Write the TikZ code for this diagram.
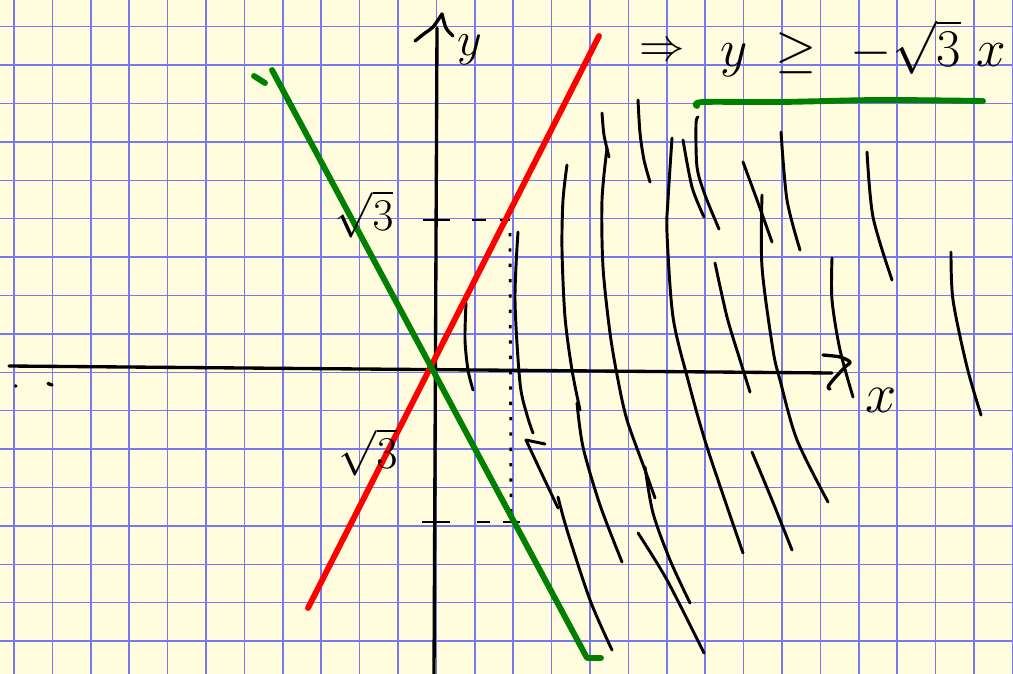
\documentclass[tikz,border=0pt]{standalone}
\usepackage{graphicx}
\definecolor{paper}{RGB}{255,253,221}
\definecolor{gridblue}{RGB}{120,120,240}
\definecolor{penred}{RGB}{255,0,0}
\definecolor{pengreen}{RGB}{0,128,0}
\tikzset{
  pen/.style={line width=2.5pt, line cap=round, line join=round, black},
  hatch/.style={line width=2.2pt, line cap=round, line join=round, black},
  dotpen/.style={line width=2.1pt, line cap=butt, black},
  redline/.style={line width=4.4pt, penred, line cap=round, line join=round},
  greenline/.style={line width=4.4pt, pengreen, line cap=round, line join=round},
  gridline/.style={line width=1.15pt, gridblue},
  hand/.style={inner sep=0pt, text=black, font=\Huge},
}
\begin{document}
\begin{tikzpicture}[x=0.75pt,y=-0.75pt]
\fill[paper] (0,0) rectangle (1013,674);
\useasboundingbox (0,0) rectangle (1013,674);
% grid
\foreach \i in {0,...,26} \draw[gridline] ({14+38.4*\i},0) -- ({14+38.4*\i},674);
\foreach \j in {0,...,16} \draw[gridline] (0,{26.7+38.4*\j}) -- (1013,{26.7+38.4*\j});

% axes
\coordinate (xs) at (9,366);
\coordinate (xe) at (832,373);
\coordinate (ys) at (434,674);
\coordinate (ye) at (437,28);
\draw[pen] (xs) -- (xe);
\draw[pen] (ys) -- (ye);
\draw[pen] plot[smooth] coordinates {(823,355) (840,357) (850,362) (845,367) (833,380) (828,387) (830,389)};
\draw[pen] plot[smooth] coordinates {(415,41) (425,33) (433,27) (442,14)};
\draw[pen] plot[smooth] coordinates {(442,14) (446,28) (453,36)};
\fill (15.7,386) circle (1.4pt);
\draw[pen] (48,383.5) -- (52,385);

% dashed helper lines
\draw[dotpen, dash pattern=on 20pt off 17pt on 10.5pt off 10pt on 7.5pt off 60pt] (423,220) -- (512,220);
\draw[dotpen, dash pattern=on 21pt off 20pt on 10pt off 10pt on 13pt off 60pt] (422,522) -- (520,522);
\draw[dotpen, dash pattern=on 2.5pt off 9pt] (504,221) .. controls (510,223) .. (510,232) -- (511,520);

% hatching
\draw[hatch] plot[smooth] coordinates {(466,303) (465,340) (468,370) (473,390)};
\draw[hatch] plot[smooth] coordinates {(518,232) (515,300) (520,383) (527,415) (533,433)};
\draw[hatch] (526,440) -- (545,444);
\draw[hatch] plot[smooth] coordinates {(526,440) (540,470) (558,508)};
\draw[hatch] plot[smooth] coordinates {(558,497) (567,530) (590,600) (612,650)};
\draw[hatch] plot[smooth] coordinates {(602,113) (604,135) (609,157)};
\draw[hatch] plot[smooth] coordinates {(638,100) (640,133) (644,160) (650,182)};
\draw[hatch] plot[smooth] coordinates {(567,165) (563,200) (562,250) (565,317) (572,370) (580,410)};
\draw[hatch] plot[smooth] coordinates {(577,403) (583,447) (600,505) (622,562)};
\draw[hatch] plot[smooth] coordinates {(607,148) (602,200) (603,267) (610,333) (618,380) (627,420) (645,470) (655,498)};
\draw[hatch] plot[smooth] coordinates {(645,467) (653,513) (670,560) (690,603)};
\draw[hatch] plot[smooth] coordinates {(672,138) (668,200) (667,233) (673,317) (688,380) (707,447) (743,553)};
\draw[hatch] plot[smooth] coordinates {(683,140) (692,187) (704,217)};
\draw[hatch] plot[smooth] coordinates {(698,117) (696,124) (697,167) (705,195) (719,229)};
\draw[hatch] plot[smooth] coordinates {(743,162) (757,200) (772,242)};
\draw[hatch] plot[smooth] coordinates {(762,195) (762,267) (773,350) (780,380) (797,440) (828,502)};
\draw[hatch] plot[smooth] coordinates {(781,132) (787,200) (800,250)};
\draw[hatch] plot[smooth] coordinates {(715,263) (727,317) (740,360) (750,392)};
\draw[hatch] plot[smooth] coordinates {(867,152) (873,217) (892,280)};
\draw[hatch] plot[smooth] coordinates {(832,258) (832,300) (840,350) (853,397)};
\draw[hatch] plot[smooth] coordinates {(951,252) (953,300) (967,367) (981,415)};
\draw[hatch] plot[smooth] coordinates {(638,533) (667,580) (704,653)};
\draw[hatch] plot[smooth] coordinates {(752,452) (772,500) (792,550)};

% coloured lines
\draw[redline] (599,36) -- (308,608);
\draw[greenline] (272,70) -- (587,658) -- (601,658);
\draw[greenline] (254,76) -- (265,83);
\draw[greenline] plot[smooth] coordinates {(697,106) (703,102) (780,102) (880,100) (983,101)};

% labels
\node[hand] (ylab) at (470,50) {\scalebox{1.45}{$y$}};
\node[hand] (xlab) at (881,400) {\scalebox{1.69}{$x$}};
\node[hand] (rtop) at (364,214) {\scalebox{1.37}{$\sqrt{3}$}};
\node[hand] (rbot) at (368,452) {\scalebox{1.37}{$\sqrt{3}$}};
\node[hand] (impl) at (662,52) {\scalebox{1.37}{$\Rightarrow$}};
\node[hand, anchor=base west] (form) at (720,67) {\scalebox{1.6}{$y\mkern4.5mu\geq\mkern6.6mu-\sqrt{3}\mkern5.4mu x$}};
\end{tikzpicture}
\end{document}
